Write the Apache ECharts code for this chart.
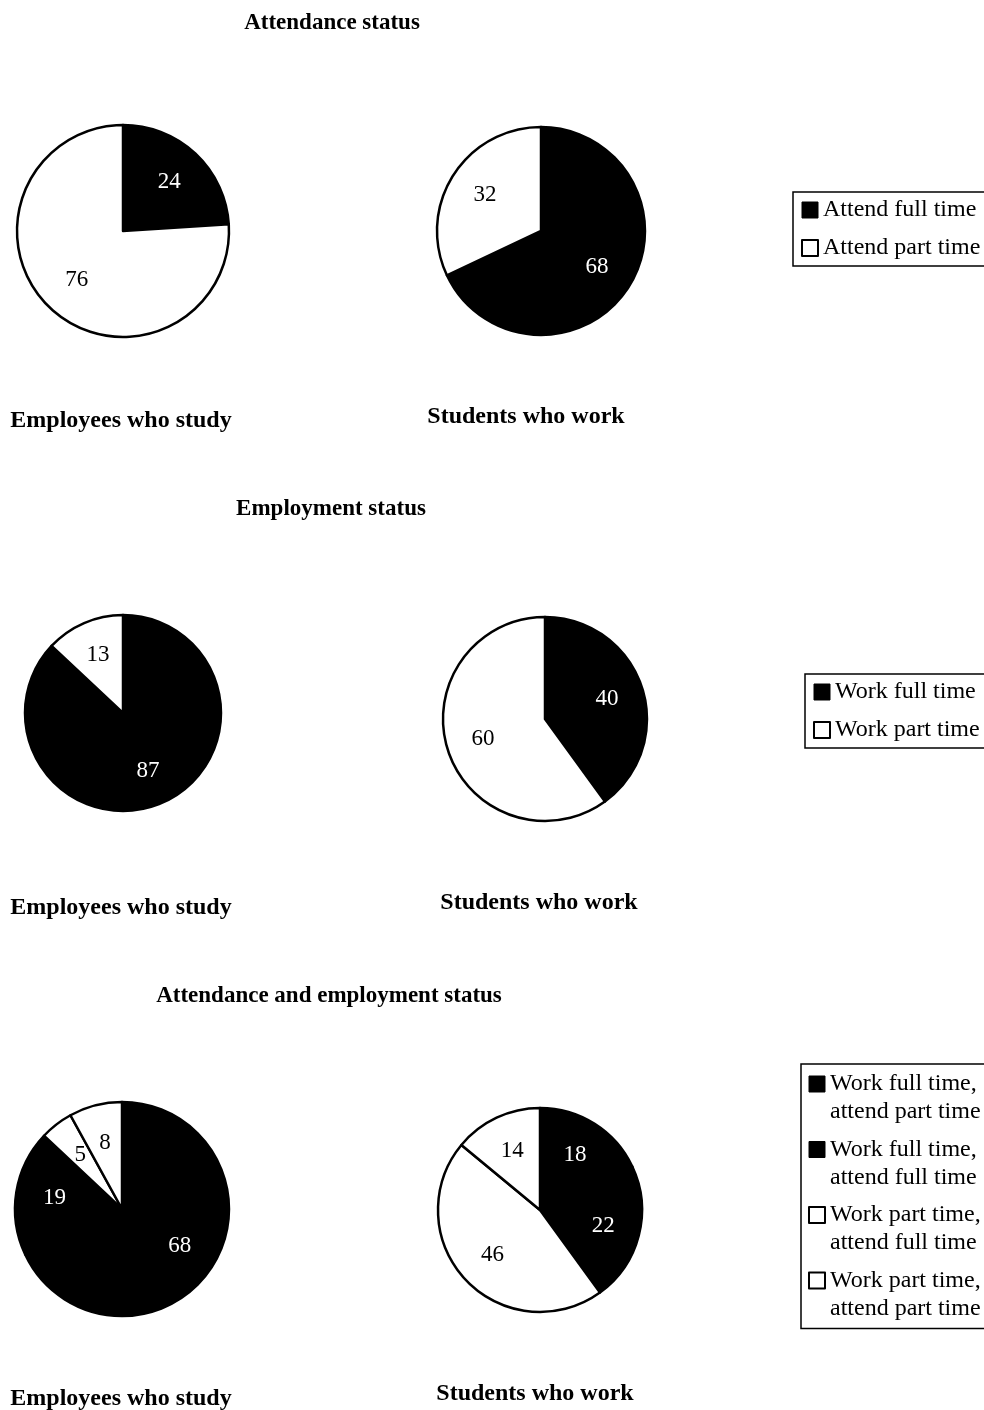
<!DOCTYPE html>
<html>
<head>
<meta charset="utf-8">
<script src="https://cdn.jsdelivr.net/npm/echarts@6/dist/echarts.min.js"></script>
<style>
html,body{margin:0;padding:0;background:#fff;}
#chart{width:984px;height:1410px;}
</style>
</head>
<body>
<div id="chart"></div>
<script>
// ---- Data ----
const chartTitles = ['Attendance status', 'Employment status', 'Attendance and employment status'];
const groupLabels = ['Employees who study', 'Students who work'];

const attendanceNames = ['Attend full time', 'Attend part time'];
const attendanceEmployees = [24, 76];
const attendanceStudents = [68, 32];

const employmentNames = ['Work full time', 'Work part time'];
const employmentEmployees = [87, 13];
const employmentStudents = [40, 60];

const combinedNames = ['Work full time, attend part time', 'Work full time, attend full time',
  'Work part time, attend full time', 'Work part time, attend part time'];
const combinedEmployees = [68, 19, 5, 8];
const combinedStudents = [18, 22, 46, 14];

// ---- Styles / layout ----
const FONT = "'Liberation Serif', 'DejaVu Serif', serif";
const BLACK = '#000', WHITE = '#fff';
const attendanceFills = [BLACK, WHITE];
const employmentFills = [BLACK, WHITE];
const combinedFills = [BLACK, BLACK, WHITE, WHITE];

const rows = [
  { names: attendanceNames, fills: attendanceFills, values: [attendanceEmployees, attendanceStudents],
    pies: [{c: [123, 231], r: 106}, {c: [541, 231], r: 104}],
    titleY: 12, labelY: [409, 405], labelX: [121, 526],
    legend: {left: 793, top: 192} },
  { names: employmentNames, fills: employmentFills, values: [employmentEmployees, employmentStudents],
    pies: [{c: [123, 713], r: 98}, {c: [545, 719], r: 102}],
    titleY: 498, labelY: [896, 891], labelX: [121, 539],
    legend: {left: 805, top: 674} },
  { names: combinedNames, fills: combinedFills, values: [combinedEmployees, combinedStudents],
    pies: [{c: [122, 1209], r: 107}, {c: [540, 1210], r: 102}],
    titleY: 985, labelY: [1387, 1382], labelX: [121, 535],
    legend: {left: 801, top: 1064}, multiline: true }
];
const titleX = [332, 331, 329];

const titles = [];
const series = [];
const legends = [];

rows.forEach((row, ri) => {
  titles.push({
    text: chartTitles[ri], left: titleX[ri], top: row.titleY, textAlign: 'center', padding: 0,
    textStyle: {fontFamily: FONT, fontSize: 23, fontWeight: 'bold', color: '#000'}
  });
  groupLabels.forEach((g, gi) => {
    titles.push({
      text: g, left: row.labelX[gi], top: row.labelY[gi], textAlign: 'center', padding: 0,
      textStyle: {fontFamily: FONT, fontSize: 24, fontWeight: 'bold', color: '#000'}
    });
  });
  // main pies
  row.pies.forEach((p, pi) => {
    const vals = row.values[pi];
    series.push({
      type: 'pie', center: p.c, radius: [0, p.r], startAngle: 90, clockwise: true,
      silent: true, animation: false, avoidLabelOverlap: false,
      label: {show: false}, labelLine: {show: false},
      emphasis: {disabled: true},
      itemStyle: {borderColor: BLACK, borderWidth: 2.5},
      data: vals.map((v, i) => ({name: row.names[i], value: v,
        itemStyle: {color: row.fills[i]}}))
    });
  });
});

// label overlay pies (transparent, same data) so labels sit ~60% of the radius
rows.forEach(row => {
  row.pies.forEach((p, pi) => {
    const vals = row.values[pi];
    series.push({
      type: 'pie', center: p.c, radius: [p.r * 0.22, p.r], startAngle: 90, clockwise: true,
      silent: true, animation: false, avoidLabelOverlap: false, z: 5,
      labelLine: {show: false}, emphasis: {disabled: true},
      itemStyle: {color: 'rgba(0,0,0,0)', borderWidth: 0},
      label: {show: true, position: 'inside', formatter: '{c}', fontFamily: FONT, fontSize: 23},
      data: vals.map((v, i) => ({name: row.names[i], value: v,
        label: {color: row.fills[i] === BLACK ? WHITE : BLACK}}))
    });
  });
});

rows.forEach(row => {
  const ml = !!row.multiline;
  legends.push({
    orient: 'vertical', left: row.legend.left, top: row.legend.top, align: 'left',
    selectedMode: false,
    borderColor: '#000', borderWidth: 1.5, borderRadius: 0,
    padding: ml ? [6, 14, 6, 7] : [6, 14, 6, 8],
    itemGap: ml ? 9.5 : 14,
    itemWidth: 16, itemHeight: ml ? 44 : 16,
    icon: ml ? 'path://M0,0L16,0L16,16L0,16Z M0,44' : 'rect',
    textStyle: {fontFamily: FONT, fontSize: 24, color: '#000', lineHeight: ml ? 28 : 24},
    formatter: ml ? (n => n.replace(', ', ',\n')) : '{name}',
    data: row.names.map((n, i) => ({
      name: n,
      itemStyle: row.fills[i] === BLACK
        ? {color: BLACK, borderColor: BLACK, borderWidth: 1}
        : {color: WHITE, borderColor: BLACK, borderWidth: 2}
    }))
  });
});

const chart = echarts.init(document.getElementById('chart'), null, {renderer: 'canvas'});
chart.setOption({
  backgroundColor: '#fff',
  animation: false,
  title: titles,
  legend: legends,
  series: series
});
</script>
</body>
</html>
